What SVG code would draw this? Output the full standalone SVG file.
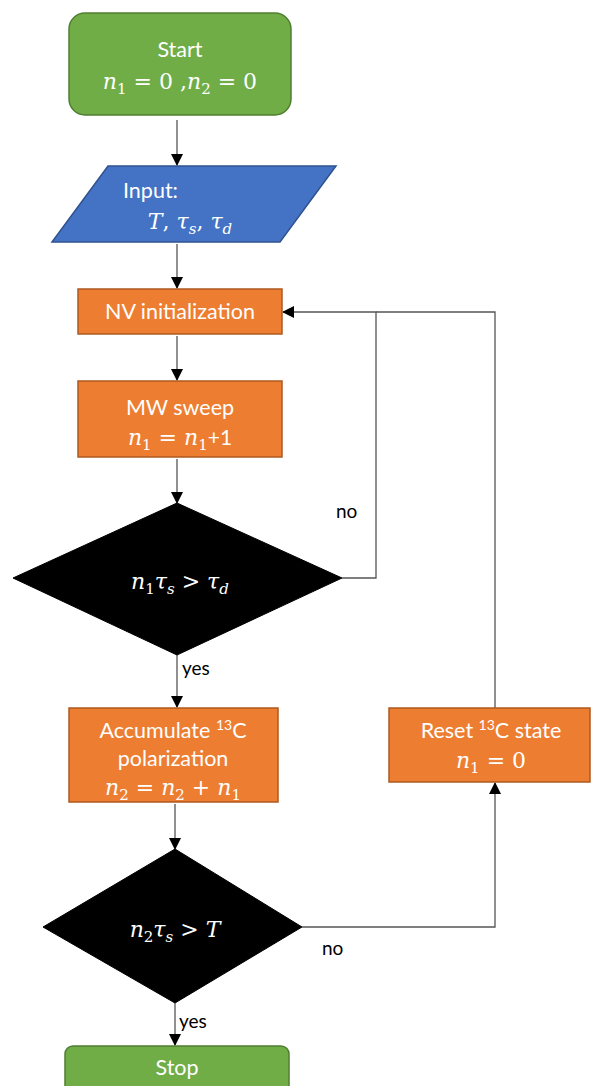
<svg xmlns="http://www.w3.org/2000/svg" width="591" height="1086" viewBox="0 0 591 1086">
<style>
.lbl{font-family:Lato,"Open Sans","Liberation Sans",sans-serif;font-size:21.5px;fill:#fff}
.math{font-family:"DejaVu Serif","Liberation Serif",serif;font-size:22px;fill:#fff}
.it{font-style:italic}
.sub{font-size:15px}
.edge{font-family:Lato,"Open Sans","Liberation Sans",sans-serif;font-size:19px;fill:#000}
.green{fill:#70AD47;stroke:#507E32;stroke-width:1.5}
.orange{fill:#ED7D31;stroke:#AE5A21;stroke-width:1.5}
.blue{fill:#4472C4;stroke:#2F528F;stroke-width:1.5}
.dia{fill:#000;stroke:#000}
.conn{fill:none;stroke:#555;stroke-width:1.3}
</style>
<defs>
<marker id="arr" markerWidth="12" markerHeight="12" refX="11" refY="6" orient="auto" markerUnits="userSpaceOnUse">
<path d="M0,0 L12,6 L0,12 Z" fill="#000"/>
</marker>
</defs>
<g id="connectors">
<line class="conn" x1="177" y1="120" x2="177" y2="165" marker-end="url(#arr)"/>
<line class="conn" x1="177" y1="244" x2="177" y2="288" marker-end="url(#arr)"/>
<line class="conn" x1="177" y1="336" x2="177" y2="380" marker-end="url(#arr)"/>
<line class="conn" x1="177" y1="459" x2="177" y2="503" marker-end="url(#arr)"/>
<polyline class="conn" points="342,578 376,578 376,312 283,312" marker-end="url(#arr)"/>
<line class="conn" x1="177" y1="655" x2="177" y2="707" marker-end="url(#arr)"/>
<line class="conn" x1="175" y1="804" x2="175" y2="849" marker-end="url(#arr)"/>
<polyline class="conn" points="302,927 495,927 495,783" marker-end="url(#arr)"/>
<polyline class="conn" points="495,708 495,312 376,312"/>
<line class="conn" x1="175" y1="1003" x2="175" y2="1045" marker-end="url(#arr)"/>
<text class="edge" x="336" y="518">no</text>
<text class="edge" x="182" y="675">yes</text>
<text class="edge" x="322" y="955">no</text>
<text class="edge" x="179" y="1028">yes</text>
</g>
<g id="start">
<rect class="green" x="69" y="13" width="222" height="102" rx="16"/>
<text class="lbl" x="180" y="57" text-anchor="middle">Start</text>
<text class="math" x="180" y="89" text-anchor="middle"><tspan class="it">n</tspan><tspan class="sub" dy="5">1</tspan><tspan dy="-5"> = 0 ,</tspan><tspan class="it">n</tspan><tspan class="sub" dy="5">2</tspan><tspan dy="-5"> = 0</tspan></text>
</g>
<g id="input">
<polygon class="blue" points="108,166 336,166 280,242 52,242"/>
<text class="lbl" x="123" y="198">Input:</text>
<text class="math" x="190" y="229" text-anchor="middle"><tspan class="it">T</tspan>, <tspan class="it">τ</tspan><tspan class="sub it" dy="5">s</tspan><tspan dy="-5">, </tspan><tspan class="it">τ</tspan><tspan class="sub it" dy="5">d</tspan></text>
</g>
<g id="nvinit">
<rect class="orange" x="78" y="289" width="204" height="45"/>
<text class="lbl" x="180" y="319" text-anchor="middle">NV initialization</text>
</g>
<g id="mwsweep">
<rect class="orange" x="78" y="381" width="204" height="76"/>
<text class="lbl" x="180" y="415" text-anchor="middle">MW sweep</text>
<text class="math" x="180" y="445" text-anchor="middle"><tspan class="it">n</tspan><tspan class="sub" dy="5">1</tspan><tspan dy="-5"> = </tspan><tspan class="it">n</tspan><tspan class="sub" dy="5">1</tspan><tspan dy="-5" font-family="Lato,sans-serif" font-size="21">+1</tspan></text>
</g>
<g id="decision1">
<polygon class="dia" points="177,503 342,578 177,655 13,578"/>
<text class="math" x="180" y="589" text-anchor="middle"><tspan class="it">n</tspan><tspan class="sub" dy="5">1</tspan><tspan class="it" dy="-5">τ</tspan><tspan class="sub it" dy="5">s</tspan><tspan dy="-5"> &gt; </tspan><tspan class="it">τ</tspan><tspan class="sub it" dy="5">d</tspan></text>
</g>
<g id="accumulate">
<rect class="orange" x="69" y="708" width="209" height="94"/>
<text class="lbl" x="173" y="738" text-anchor="middle">Accumulate <tspan font-size="14" dy="-8">13</tspan><tspan dy="8">C</tspan></text>
<text class="lbl" x="173" y="766" text-anchor="middle">polarization</text>
<text class="math" x="173" y="795" text-anchor="middle"><tspan class="it">n</tspan><tspan class="sub" dy="5">2</tspan><tspan dy="-5"> = </tspan><tspan class="it">n</tspan><tspan class="sub" dy="5">2</tspan><tspan dy="-5"> + </tspan><tspan class="it">n</tspan><tspan class="sub" dy="5">1</tspan></text>
</g>
<g id="reset">
<rect class="orange" x="389" y="708" width="201" height="74"/>
<text class="lbl" x="491" y="738" text-anchor="middle">Reset <tspan font-size="14" dy="-8">13</tspan><tspan dy="8">C state</tspan></text>
<text class="math" x="491" y="768" text-anchor="middle"><tspan class="it">n</tspan><tspan class="sub" dy="5">1</tspan><tspan dy="-5"> = 0</tspan></text>
</g>
<g id="decision2">
<polygon class="dia" points="175,849 302,927 175,1003 43,927"/>
<text class="math" x="175" y="937" text-anchor="middle"><tspan class="it">n</tspan><tspan class="sub" dy="5">2</tspan><tspan class="it" dy="-5">τ</tspan><tspan class="sub it" dy="5">s</tspan><tspan dy="-5"> &gt; </tspan><tspan class="it">T</tspan></text>
</g>
<g id="stop">
<rect class="green" x="65" y="1046" width="224" height="56" rx="8"/>
<text class="lbl" x="177" y="1075" text-anchor="middle">Stop</text>
</g>
</svg>
